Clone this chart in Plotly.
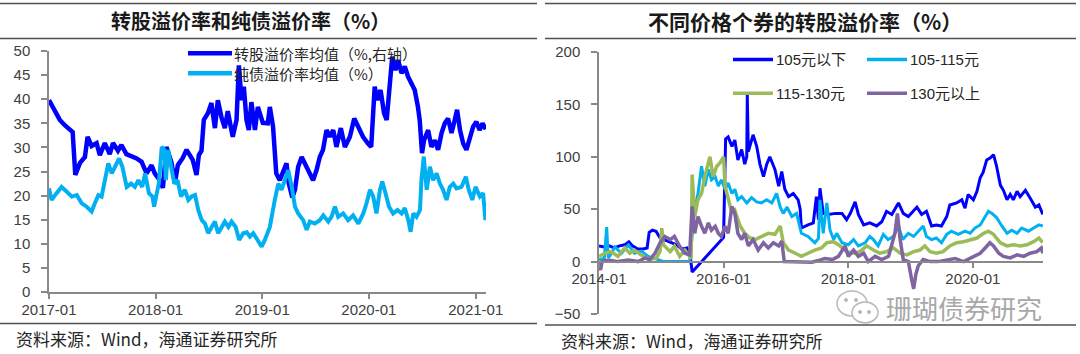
import plotly.graph_objects as go

# ---------------- Left chart data: 转股溢价率 / 纯债溢价率 ----------------
cv_dates = [
    "2017-01-01", "2017-01-21", "2017-02-07", "2017-02-24", "2017-03-13", "2017-03-23", "2017-04-01", "2017-04-17",
    "2017-05-04", "2017-05-13", "2017-05-27", "2017-06-13", "2017-06-24", "2017-07-11", "2017-07-28", "2017-08-08",
    "2017-08-25", "2017-09-06", "2017-09-23", "2017-10-11", "2017-10-28", "2017-11-14", "2017-12-01", "2017-12-18",
    "2017-12-29",
    "2018-01-15", "2018-01-26", "2018-02-07", "2018-02-24", "2018-03-08", "2018-03-18", "2018-04-04", "2018-04-17",
    "2018-04-28", "2018-05-08", "2018-05-21", "2018-05-29", "2018-06-07", "2018-06-15", "2018-06-29", "2018-07-11",
    "2018-07-23", "2018-08-02", "2018-08-15", "2018-08-26", "2018-09-05", "2018-09-22", "2018-10-05", "2018-10-13",
    "2018-10-22", "2018-10-30", "2018-11-08", "2018-11-16", "2018-11-25", "2018-12-07", "2018-12-17",
    "2019-01-03", "2019-01-20", "2019-01-27", "2019-02-07", "2019-02-18", "2019-03-02", "2019-03-12", "2019-03-25",
    "2019-04-02", "2019-04-14", "2019-04-23", "2019-05-04", "2019-05-16", "2019-05-27", "2019-06-06", "2019-06-24",
    "2019-07-06", "2019-07-17", "2019-07-28", "2019-08-09", "2019-08-20", "2019-09-01", "2019-09-12", "2019-09-27",
    "2019-10-11", "2019-10-28", "2019-11-12", "2019-11-25", "2019-12-12", "2019-12-29",
    "2020-01-09", "2020-01-21", "2020-01-30", "2020-02-10", "2020-02-22", "2020-03-02", "2020-03-12", "2020-03-21",
    "2020-04-01", "2020-04-10", "2020-04-22", "2020-05-03", "2020-05-14", "2020-05-26", "2020-06-06", "2020-06-17",
    "2020-06-23", "2020-07-01", "2020-07-08", "2020-07-22", "2020-08-02", "2020-08-14", "2020-08-25", "2020-09-06",
    "2020-09-17", "2020-09-28", "2020-10-10", "2020-10-21", "2020-10-29", "2020-11-08", "2020-11-19", "2020-11-30",
    "2020-12-11", "2020-12-23", "2021-01-03", "2021-01-14", "2021-01-24", "2021-02-04",
]
cv_premium = [
    39.8, 37.4, 35.7, 34.6, 33.6, 33.2, 24.3, 26.8, 28.0, 32.2, 30.3, 30.9, 28.4, 30.9, 28.6, 30.9,
    29.3, 30.5, 28.6, 28.2, 27.7, 27.0, 24.6, 26.3, 24.6,
    23.2, 21.6, 30.1, 26.9, 22.6, 26.3, 27.8, 29.5, 28.4, 27.4, 24.3, 28.4, 29.3, 35.7, 37.1, 39.2,
    34.0, 39.8, 36.1, 34.0, 37.5, 32.2, 35.7, 47.0, 39.8, 42.6, 35.7, 33.6, 39.4, 33.6, 38.4,
    35.1, 35.0, 38.4, 34.3, 24.6, 23.2, 24.6, 26.7, 22.5, 19.6, 21.2, 26.0, 28.0, 26.7, 25.3, 23.2,
    25.3, 28.0, 29.5, 33.6, 32.2, 33.6, 30.1, 34.0, 30.1, 32.2, 36.0, 34.3, 32.2, 30.8,
    30.1, 42.6, 39.8, 41.9, 37.1, 35.7, 43.3, 48.8, 46.0, 48.1, 45.4, 46.8, 44.7, 43.3, 41.9, 38.4,
    35.7, 28.8, 31.5, 33.6, 30.1, 31.5, 29.5, 33.0, 35.0, 36.0, 33.0, 35.7, 37.8, 33.6, 30.8, 29.5,
    32.2, 34.3, 35.3, 33.6, 35.0, 33.8,
]

bond_dates = [
    "2017-01-01", "2017-01-10", "2017-01-27", "2017-02-13", "2017-03-03", "2017-03-20", "2017-04-06", "2017-04-23",
    "2017-05-10", "2017-05-27", "2017-06-07", "2017-06-19", "2017-06-30", "2017-07-12", "2017-07-23", "2017-08-04",
    "2017-08-15", "2017-08-29", "2017-09-09", "2017-09-24", "2017-10-09", "2017-10-22", "2017-11-03", "2017-11-16",
    "2017-11-26", "2017-12-09", "2017-12-21", "2017-12-27",
    "2018-01-05", "2018-01-12", "2018-01-22", "2018-01-31", "2018-02-05", "2018-02-13", "2018-02-23", "2018-03-06",
    "2018-03-17", "2018-03-29", "2018-04-11", "2018-04-23", "2018-05-04", "2018-05-16", "2018-05-27", "2018-06-08",
    "2018-06-19", "2018-06-30", "2018-07-12", "2018-07-23", "2018-08-03", "2018-08-15", "2018-08-26", "2018-09-07",
    "2018-09-18", "2018-10-02", "2018-10-14", "2018-10-28", "2018-11-09", "2018-11-20", "2018-12-01", "2018-12-16",
    "2018-12-30",
    "2019-01-10", "2019-01-27", "2019-02-13", "2019-02-25", "2019-03-08", "2019-03-20", "2019-03-31", "2019-04-12",
    "2019-04-23", "2019-05-04", "2019-05-21", "2019-06-02", "2019-06-13", "2019-06-30", "2019-07-17", "2019-07-29",
    "2019-08-15", "2019-08-26", "2019-09-07", "2019-09-18", "2019-10-05", "2019-10-22", "2019-11-08", "2019-11-26",
    "2019-12-13", "2019-12-24",
    "2020-01-05", "2020-01-16", "2020-01-27", "2020-02-08", "2020-02-16", "2020-02-27", "2020-03-10", "2020-03-24",
    "2020-04-08", "2020-04-22", "2020-05-03", "2020-05-15", "2020-05-23", "2020-06-01", "2020-06-12", "2020-06-24",
    "2020-06-29", "2020-07-07", "2020-07-17", "2020-07-28", "2020-08-08", "2020-08-20", "2020-08-31", "2020-09-11",
    "2020-09-23", "2020-10-04", "2020-10-16", "2020-10-27", "2020-11-13", "2020-11-28", "2020-12-08", "2020-12-20",
    "2020-12-31", "2021-01-15", "2021-01-26", "2021-02-03",
]
bond_premium = [
    21.5, 19.1, 20.5, 21.8, 20.8, 19.8, 20.1, 18.4, 17.7, 16.7, 18.4, 20.1, 19.8, 23.2, 26.7, 24.6,
    26.0, 27.7, 26.0, 21.8, 22.5, 21.8, 23.2, 21.8, 24.6, 20.5, 19.8, 17.7,
    20.5, 22.5, 30.1, 29.5, 23.2, 29.5, 26.0, 22.5, 23.2, 19.8, 21.2, 19.1, 19.8, 20.1, 17.0, 14.9,
    14.2, 12.2, 13.5, 14.6, 12.2, 13.5, 14.6, 13.5, 14.6, 13.5, 10.8, 12.2, 12.4, 11.5, 12.2, 10.8,
    9.4,
    10.8, 13.5, 19.1, 22.5, 21.2, 23.2, 25.3, 21.8, 17.7, 16.3, 14.9, 12.9, 14.6, 14.2, 14.9, 15.9,
    14.6, 15.6, 17.7, 15.6, 16.3, 14.9, 15.9, 14.2, 16.3, 18.4,
    21.2, 19.8, 16.3, 21.2, 22.9, 20.5, 17.7, 16.3, 17.0, 16.3, 17.4, 14.9, 12.5, 16.3, 15.6, 17.0,
    23.2, 28.1, 21.2, 26.0, 23.2, 24.6, 22.5, 21.2, 19.1, 21.8, 22.5, 21.5, 21.8, 23.9, 21.2, 19.1,
    21.8, 19.8, 20.5, 14.9,
]

left_names = ["转股溢价率均值（%,右轴）", "纯债溢价率均值（%）"]

# ---------------- Right chart data: 不同价格个券的转股溢价率 ----------------
a_dates = [
    "2014-01-01", "2014-02-01", "2014-03-01", "2014-04-01", "2014-05-01", "2014-06-01", "2014-06-25", "2014-07-16",
    "2014-08-16", "2014-09-16", "2014-10-10", "2014-10-22", "2014-11-10", "2014-12-01", "2014-12-16",
    "2015-01-01", "2015-02-01", "2015-03-01", "2015-04-01", "2015-05-01", "2015-06-01", "2015-06-19", "2015-07-01",
    "2016-01-01", "2016-01-13", "2016-01-28", "2016-02-19", "2016-03-07", "2016-03-25", "2016-04-16", "2016-05-04",
    "2016-05-16", "2016-05-19", "2016-05-25", "2016-06-22", "2016-07-13", "2016-08-01", "2016-08-22", "2016-09-10",
    "2016-09-28", "2016-10-28", "2016-11-19", "2016-12-07", "2016-12-25",
    "2017-01-16", "2017-02-13", "2017-03-13", "2017-03-25", "2017-04-01", "2017-05-10", "2017-06-10", "2017-06-28",
    "2017-07-10", "2017-07-19", "2017-08-07", "2017-09-07", "2017-10-16", "2017-11-25", "2017-12-22",
    "2018-01-13", "2018-02-10", "2018-03-01", "2018-04-01", "2018-05-07", "2018-06-16", "2018-07-16", "2018-08-13",
    "2018-09-13", "2018-10-22", "2018-11-19", "2018-12-19",
    "2019-02-07", "2019-03-07", "2019-04-04", "2019-05-04", "2019-06-01", "2019-07-01", "2019-08-01", "2019-08-19",
    "2019-09-28", "2019-10-28", "2019-11-16", "2019-12-04",
    "2020-01-04", "2020-01-25", "2020-02-13", "2020-03-01", "2020-03-22", "2020-04-13", "2020-05-01", "2020-05-19",
    "2020-06-10", "2020-06-28", "2020-07-19", "2020-08-07", "2020-08-25", "2020-09-16", "2020-10-04", "2020-11-04",
    "2020-12-04", "2021-01-01", "2021-01-22", "2021-02-14",
]
a_vals = [
    15, 14, 15, 13, 15, 16, 19, 15, 12, 12, 13, 28, 30, 29, 25,
    21, 20, 18, 16, 12, 13, 6, -10,
    23, 117, 119, 110, 116, 97, 107, 93, 100, 159, 105, 121, 110, 93, 81, 93, 100, 88, 72, 86, 69,
    62, 65, 59, 50, 32, 35, 37, 62, 40, 70, 46, 45, 46, 46, 40,
    46, 57, 45, 35, 37, 34, 38, 48, 45, 56, 46, 43,
    52, 45, 48, 34, 35, 34, 43, 54, 56, 59, 51, 64,
    59, 67, 80, 85, 97, 99, 102, 91, 73, 68, 59, 64, 59, 67, 62, 68, 60,
    52, 54, 45,
]

b_dates = [
    "2014-01-01", "2014-02-01", "2014-02-15", "2014-02-24", "2014-03-04", "2014-04-04", "2014-05-13", "2014-06-22",
    "2014-07-28", "2014-09-07", "2014-10-16", "2014-12-13",
    "2015-01-16", "2015-06-16", "2015-06-28", "2015-07-16", "2015-08-04", "2015-08-25", "2015-09-13", "2015-10-04",
    "2015-10-22", "2015-11-13", "2015-12-01", "2015-12-19",
    "2016-01-10", "2016-01-28", "2016-02-19", "2016-03-07", "2016-03-25", "2016-04-16", "2016-05-16", "2016-06-13",
    "2016-07-13", "2016-08-10", "2016-09-10", "2016-10-10", "2016-11-07", "2016-11-28", "2016-12-16",
    "2017-01-07", "2017-02-04", "2017-03-04", "2017-04-01", "2017-05-10", "2017-06-19", "2017-07-10", "2017-07-19",
    "2017-08-07", "2017-08-28", "2017-09-16", "2017-10-07", "2017-10-25", "2017-11-25",
    "2018-01-01", "2018-02-01", "2018-03-01", "2018-04-10", "2018-05-07", "2018-05-28", "2018-06-25", "2018-07-25",
    "2018-08-22", "2018-09-22", "2018-10-22", "2018-11-16", "2018-12-19",
    "2019-01-19", "2019-02-15", "2019-03-16", "2019-04-04", "2019-05-04", "2019-06-01", "2019-07-01", "2019-08-01",
    "2019-08-28", "2019-10-07", "2019-11-16", "2019-12-16",
    "2020-01-13", "2020-02-13", "2020-03-13", "2020-04-01", "2020-04-22", "2020-05-19", "2020-06-19", "2020-07-19",
    "2020-08-16", "2020-09-16", "2020-10-13", "2020-11-22", "2020-12-22",
    "2021-01-22", "2021-02-14",
]
b_vals = [
    2, 3, 33, 4, 5, 14, 8, 16, 8, 10, 5, 2,
    0, 0, 21, 50, 65, 91, 72, 88, 78, 81, 72, 78,
    69, 75, 65, 69, 59, 62, 56, 61, 57, 56, 59, 56, 65, 52, 46,
    52, 43, 46, 27, 24, 18, 22, 59, 27, 56, 30, 21, 27, 18,
    16, 21, 15, 18, 24, 21, 15, 26, 21, 24, 34, 21, 27,
    24, 29, 34, 24, 21, 22.5, 18, 26, 29, 26, 29, 27,
    32, 35, 43, 48, 46, 42, 34, 27, 30, 27, 32, 29, 32,
    35, 34,
]

c_dates = [
    "2014-01-01", "2014-02-07", "2014-03-13", "2014-04-22", "2014-06-01", "2014-07-01", "2014-07-28", "2014-09-07",
    "2014-10-25", "2014-12-04", "2014-12-25",
    "2015-01-04", "2015-01-13", "2015-01-22", "2015-02-22", "2015-03-19", "2015-04-19", "2015-05-19", "2015-06-16",
    "2015-06-25", "2015-07-01", "2015-07-16", "2015-08-04", "2015-08-25", "2015-09-13", "2015-10-13", "2015-11-01",
    "2015-11-22", "2015-12-10",
    "2016-01-01", "2016-01-10", "2016-01-28", "2016-02-19", "2016-03-07", "2016-04-07", "2016-05-04", "2016-06-04",
    "2016-07-04", "2016-08-10", "2016-09-19", "2016-10-28", "2016-11-28", "2016-12-16",
    "2017-01-16", "2017-02-25", "2017-04-01", "2017-05-10", "2017-06-19", "2017-07-28", "2017-08-28", "2017-10-07",
    "2017-11-13", "2017-12-22",
    "2018-02-01", "2018-03-10", "2018-04-19", "2018-05-28", "2018-07-04", "2018-08-13", "2018-09-22", "2018-11-01",
    "2018-12-10",
    "2019-01-19", "2019-02-25", "2019-03-25", "2019-04-25", "2019-06-01", "2019-07-10", "2019-08-19", "2019-09-28",
    "2019-11-07", "2019-12-16",
    "2020-01-25", "2020-03-04", "2020-04-01", "2020-05-01", "2020-06-10", "2020-07-19", "2020-08-25", "2020-10-04",
    "2020-11-13", "2020-12-22",
    "2021-01-22", "2021-02-14",
]
c_vals = [
    5, 8, 9.5, 5, 13, 8, 11, 6, 2, 3.5, 10,
    32, 16, 14.6, 9.5, 14.6, 5, 11, 5, 3, 83, 43, 59, 65, 81, 100, 81, 91, 94,
    100, 72, 59, 46, 49, 34, 27, 22.5, 21, 24, 27, 26, 34, 18,
    11, 8, 5, 8, 11, 13, 18, 19, 15, 9.5,
    8, 9.5, 15, 11, 8, 9.5, 13, 8, 6.4,
    9.5, 11, 15, 9.5, 8, 9.5, 15, 18, 19, 21,
    22.5, 27, 29, 26, 18, 15, 16, 15, 16, 19,
    22.5, 18,
]

d_dates = [
    "2014-01-01", "2014-01-10", "2014-01-19", "2014-02-24", "2014-04-22", "2014-06-22", "2014-08-19", "2014-09-28",
    "2014-10-25", "2014-11-25", "2014-12-25",
    "2015-01-22", "2015-02-22", "2015-03-19", "2015-04-19", "2015-05-19", "2015-06-16", "2015-07-01", "2015-07-16",
    "2015-08-04", "2015-08-25", "2015-09-13", "2015-10-04", "2015-10-22", "2015-11-13", "2015-12-01", "2015-12-19",
    "2016-01-10", "2016-01-28", "2016-02-19", "2016-03-07", "2016-03-25", "2016-04-16", "2016-05-04", "2016-05-25",
    "2016-06-22", "2016-07-22", "2016-08-22", "2016-09-19", "2016-10-19", "2016-11-19", "2016-12-07", "2016-12-22",
    "2017-02-04", "2017-04-01", "2017-06-01", "2017-07-10", "2017-08-16", "2017-10-01", "2017-11-04", "2017-12-13",
    "2018-01-01", "2018-02-01", "2018-03-01", "2018-04-01", "2018-04-28", "2018-06-07", "2018-07-16", "2018-08-25",
    "2018-09-13", "2018-10-01", "2018-10-16", "2018-11-01", "2018-11-19", "2018-12-19",
    "2019-01-07", "2019-01-19", "2019-02-01", "2019-02-15", "2019-03-16", "2019-04-25", "2019-06-10", "2019-08-01",
    "2019-09-19", "2019-11-07", "2019-12-16",
    "2020-01-13", "2020-02-13", "2020-03-13", "2020-04-10", "2020-05-01", "2020-06-01", "2020-06-28", "2020-08-07",
    "2020-09-16", "2020-10-25", "2020-12-01",
    "2021-01-10", "2021-02-05", "2021-02-14",
]
d_vals = [
    -4, -8, 0, 1.6, 0, 1.6, 0, 3.5, 1.6, 8, 18,
    24, 21, 24, 14.6, 8, 6.4, 52.7, 27, 43, 33.7, 27, 37, 30, 33.7, 27, 24,
    33.7, 27, 52.7, 46, 27, 21, 27, 15, 21, 11, 18, 13, 18, 15, 19.4, 0,
    0, 0, -0.6, 1, 3, 2, 5, 15,
    5, 11, 5, 8, 0, 5, 2, 5, 18, 27, 46, 21, 2, 0,
    -17, -26, -12, -4, 2, 0, 0, 1.6, 3, 0, 3,
    5, 8, 13, 18, 15, 8, 5, 3.5, 6.4, 5, 8,
    9.5, 13, 8,
]

right_names = ["105元以下", "105-115元", "115-130元", "130元以上"]

for dts, vls in [(cv_dates, cv_premium), (bond_dates, bond_premium), (a_dates, a_vals),
                 (b_dates, b_vals), (c_dates, c_vals), (d_dates, d_vals)]:
    assert len(dts) == len(vls), (len(dts), len(vls))

# ---------------- styling ----------------
W, H = 1080, 354
BLUE = "#0000FF"
CYAN = "#00B0F0"
GREEN = "#9BBB59"
PURPLE = "#8064A2"
AXIS = "#898989"
TXT = "#404040"
NUM_FONT = "Liberation Sans, Arial, Noto Sans CJK SC"
CJK_FONT = "Noto Sans CJK SC, Liberation Sans"


def X(px):
    return px / W


def Y(py):
    return 1 - py / H


fig = go.Figure()

fig.add_trace(go.Scatter(x=cv_dates, y=cv_premium, mode="lines", name=left_names[0],
                         line=dict(color=BLUE, width=4.5), xaxis="x", yaxis="y"))
fig.add_trace(go.Scatter(x=bond_dates, y=bond_premium, mode="lines", name=left_names[1],
                         line=dict(color=CYAN, width=4), xaxis="x", yaxis="y"))

right_series = [(a_dates, a_vals, BLUE, 3), (b_dates, b_vals, CYAN, 3),
                (c_dates, c_vals, GREEN, 3.5), (d_dates, d_vals, PURPLE, 3.5)]
for (dts, vls, col, wd), nm in zip(right_series, right_names):
    fig.add_trace(go.Scatter(x=dts, y=vls, mode="lines", name=nm,
                             line=dict(color=col, width=wd), xaxis="x2", yaxis="y2"))

axis_common = dict(showline=True, linecolor=AXIS, linewidth=1.5, ticks="outside",
                   tickcolor=AXIS, tickwidth=1.5, showgrid=False, zeroline=False,
                   automargin=False,
                   tickfont=dict(family=NUM_FONT, size=15, color=TXT))

fig.update_layout(
    width=W, height=H,
    margin=dict(l=0, r=0, t=0, b=0, pad=0, autoexpand=False),
    paper_bgcolor="white", plot_bgcolor="white",
    showlegend=False,
    xaxis=dict(domain=[X(49), X(486)], type="date", range=["2017-01-01", "2021-02-05"],
               tickformat="%Y-%m", dtick="M12", tick0="2017-01-01", ticklen=5,
               ticklabelstandoff=-2, anchor="y", **axis_common),
    yaxis=dict(domain=[Y(292), Y(51)], range=[0, 50], dtick=5, ticklen=6,
               ticklabelstandoff=8, anchor="x", **axis_common),
    xaxis2=dict(domain=[X(599), X(1043)], type="date", range=["2014-01-01", "2021-02-15"],
                tickformat="%Y-%m", dtick="M24", tick0="2014-01-01", ticklen=5,
                ticklabelstandoff=-2, anchor="free", position=Y(262), **axis_common),
    yaxis2=dict(domain=[Y(314), Y(52)], range=[-50, 200], dtick=50, ticklen=6,
                ticklabelstandoff=8, anchor="x2", **axis_common),
)

shapes = []
annotations = []


def hline(x0, x1, y, color="#505050", width=1.5):
    shapes.append(dict(type="line", xref="paper", yref="paper", x0=X(x0), x1=X(x1),
                       y0=Y(y), y1=Y(y), line=dict(color=color, width=width)))


def text(x, y, s, size, color="#262626", family=CJK_FONT, xanchor="left", bold=False):
    if bold:
        s = "<b>" + s + "</b>"
    annotations.append(dict(x=X(x), y=Y(y), xref="paper", yref="paper", text=s, showarrow=False,
                            xanchor=xanchor, yanchor="middle",
                            font=dict(family=family, size=size, color=color)))


# panel frame lines
hline(0, 537, 3.5)
hline(0, 537, 38.5)
hline(0, 537, 323.5)
hline(545, 1076, 3.5)
hline(545, 1076, 38.5)
hline(545, 1076, 325)

# titles
text(250, 21, "转股溢价率和纯债溢价率（%）", 20, color="#1a1a1a", xanchor="center", bold=True)
text(805, 21, "不同价格个券的转股溢价率（%）", 21, color="#1a1a1a", xanchor="center", bold=True)

# left legend
hline(188, 232, 53.3, BLUE, 4.5)
hline(188, 232, 73.3, CYAN, 4.5)
text(232, 53, left_names[0], 15)
text(232, 73, left_names[1], 15)

# right legend
legend_pos = [(733, 59.5), (867, 59.5), (733, 93.3), (867, 93.3)]
legend_cols = [BLUE, CYAN, GREEN, PURPLE]
for (lx, ly), col, nm in zip(legend_pos, legend_cols, right_names):
    hline(lx, lx + 40, ly, col, 3.5)
    text(lx + 41, ly, nm, 15, family=NUM_FONT)

# source notes
text(14, 338, "资料来源：Wind，海通证券研究所", 17, family=CJK_FONT)
text(559, 340, "资料来源：Wind，海通证券研究所", 17, family=CJK_FONT)

# watermark (WeChat-style icon + text)
WM = "#b8b8b8"
shapes.append(dict(type="circle", xref="paper", yref="paper", x0=X(837), x1=X(867), y0=Y(316), y1=Y(291),
                   line=dict(color=WM, width=1.5), fillcolor="rgba(255,255,255,0)"))
shapes.append(dict(type="circle", xref="paper", yref="paper", x0=X(852), x1=X(878), y0=Y(323), y1=Y(302),
                   line=dict(color=WM, width=1.5), fillcolor="white"))
for ex, ey in [(846, 300), (856, 300), (860, 312), (869, 312)]:
    shapes.append(dict(type="circle", xref="paper", yref="paper", x0=X(ex - 1.5), x1=X(ex + 1.5),
                       y0=Y(ey + 1.5), y1=Y(ey - 1.5), line=dict(color=WM, width=1), fillcolor=WM))
text(964, 307, "珊瑚债券研究", 26, color="#a8a8a8", family=CJK_FONT, xanchor="center")

fig.update_layout(shapes=shapes, annotations=annotations)

fig.write_html("out.html")
